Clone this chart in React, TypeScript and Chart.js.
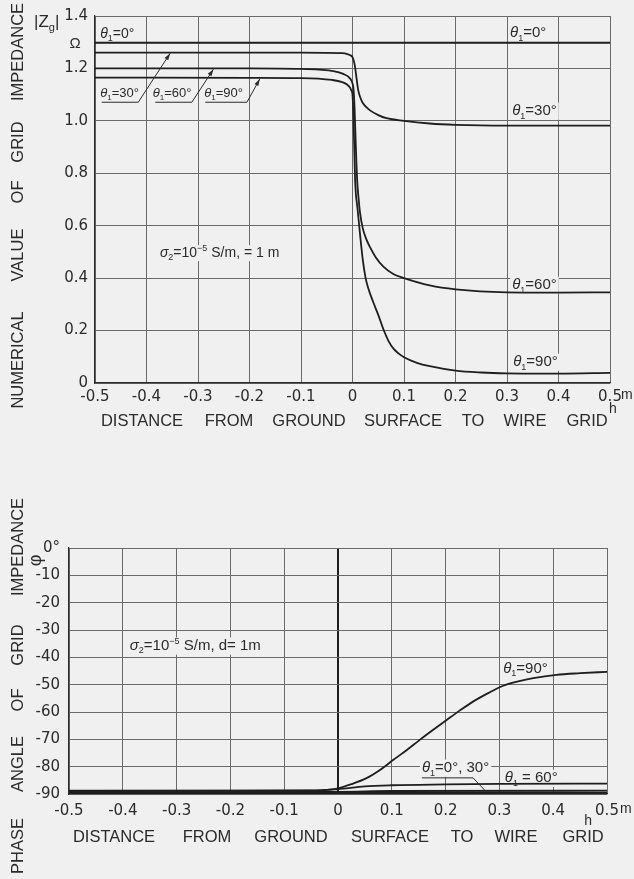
import React, { useEffect, useRef } from "react";
import { Chart, registerables } from "chart.js";

Chart.register(...registerables);

const BG = "#f0f0f0";
const INK = "#2b2b2b";
const GRID = "#6a6a6a";
const FONT = '"Liberation Sans", Arial, sans-serif';
const TICKFAM = '"DejaVu Sans", "Liberation Sans", sans-serif';

// ---------- Chart 1: |Zg| vs h ----------
const zgX0 = [-0.5, 0.5];
const zgY0 = [1.298, 1.298];

const zgX30 = [-0.5, -0.1, -0.02, -0.01, -0.004, 0, 0.003, 0.005, 0.008, 0.011, 0.015, 0.02, 0.027, 0.034, 0.05, 0.066, 0.1, 0.15, 0.2, 0.3, 0.5];
const zgY30 = [1.26, 1.26, 1.258, 1.255, 1.25, 1.243, 1.225, 1.205, 1.16, 1.118, 1.09, 1.068, 1.052, 1.04, 1.022, 1.01, 1.0, 0.99, 0.985, 0.982, 0.982];

const zgX60 = [-0.5, -0.2, -0.1, -0.037, -0.018, -0.005, 0, 0.002, 0.004, 0.006, 0.009, 0.012, 0.0146, 0.02, 0.027, 0.034, 0.045, 0.06, 0.08, 0.1, 0.15, 0.2, 0.3, 0.4, 0.5];
const zgY60 = [1.2, 1.2, 1.198, 1.19, 1.179, 1.162, 1.143, 1.12, 1.05, 0.93, 0.775, 0.7, 0.65, 0.59, 0.548, 0.518, 0.48, 0.444, 0.415, 0.4, 0.372, 0.357, 0.346, 0.345, 0.346];

const zgX90 = [-0.5, -0.2, -0.1, -0.04, -0.02, -0.01, -0.005, -0.002, 0, 0.002, 0.004, 0.005, 0.01, 0.015, 0.02, 0.025, 0.03, 0.04, 0.05, 0.06, 0.07, 0.08, 0.09, 0.1, 0.125, 0.15, 0.2, 0.25, 0.3, 0.4, 0.5];
const zgY90 = [1.165, 1.164, 1.163, 1.156, 1.148, 1.138, 1.127, 1.115, 1.1, 1.0, 0.85, 0.775, 0.66, 0.56, 0.47, 0.405, 0.365, 0.31, 0.26, 0.205, 0.16, 0.13, 0.112, 0.098, 0.077, 0.064, 0.047, 0.04, 0.037, 0.036, 0.039];

// ---------- Chart 2: phase vs h ----------
const phX0 = [-0.5, 0.5];
const phY0 = [-89.6, -89.5];

const phX30 = [-0.5, 0, 0.1, 0.5];
const phY30 = [-89.3, -89.2, -88.9, -88.8];

const phX60 = [-0.5, -0.05, 0, 0.05, 0.1, 0.2, 0.3, 0.5];
const phY60 = [-88.9, -88.8, -88.2, -87.2, -86.8, -86.5, -86.3, -86.2];

const phX90 = [-0.5, -0.2, -0.05, -0.02, 0, 0.025, 0.053, 0.078, 0.103, 0.128, 0.152, 0.177, 0.202, 0.226, 0.251, 0.28, 0.307, 0.335, 0.363, 0.406, 0.45, 0.5];
const phY90 = [-88.8, -88.8, -88.7, -88.5, -87.9, -86.4, -84.2, -81.2, -77.5, -73.9, -70.2, -66.5, -62.9, -59.5, -56.2, -53.0, -50.4, -48.8, -47.6, -46.4, -45.8, -45.3];

const xTitleWords = ["DISTANCE", "FROM", "GROUND", "SURFACE", "TO", "WIRE", "GRID"];
const topYTitleWords = ["NUMERICAL", "VALUE", "OF", "GRID", "IMPEDANCE"];
const botYTitleWords = ["PHASE", "ANGLE", "OF", "GRID", "IMPEDANCE"];

const pts = (xs: number[], ys: number[]) => xs.map((x, i) => ({ x, y: ys[i] }));

type Seg = { t: string; sub?: boolean; sup?: boolean; it?: boolean };
const th = (rest: string): Seg[] => [{ t: "θ", it: true }, { t: "1", sub: true }, { t: rest }];

function segFont(seg: Seg, size: number) {
  const s = seg.sub || seg.sup ? Math.round(size * 0.62) : size;
  return `${seg.it ? "italic " : ""}${s}px ${FONT}`;
}
function measureRich(ctx: CanvasRenderingContext2D, segs: Seg[], size: number) {
  let w = 0;
  for (const s of segs) {
    ctx.font = segFont(s, size);
    w += ctx.measureText(s.t).width;
  }
  return w;
}
function drawRich(ctx: CanvasRenderingContext2D, x: number, cy: number, segs: Seg[], size: number, mode: "bg" | "text") {
  const w = measureRich(ctx, segs, size);
  const base = cy + size * 0.36;
  if (mode === "bg") {
    ctx.fillStyle = BG;
    ctx.fillRect(x - 2, base - size * 0.85, w + 4, size * 1.15);
    return;
  }
  ctx.fillStyle = INK;
  ctx.textAlign = "left";
  ctx.textBaseline = "alphabetic";
  let cx = x;
  for (const s of segs) {
    ctx.font = segFont(s, size);
    const dy = s.sub ? size * 0.22 : s.sup ? -size * 0.42 : 0;
    ctx.fillText(s.t, cx, base + dy);
    cx += ctx.measureText(s.t).width;
  }
}

function drawRotWord(ctx: CanvasRenderingContext2D, word: string, x: number, y: number, size: number) {
  ctx.save();
  ctx.translate(x, y);
  ctx.rotate(-Math.PI / 2);
  ctx.font = `${size}px ${FONT}`;
  ctx.fillStyle = INK;
  ctx.textAlign = "center";
  ctx.textBaseline = "middle";
  ctx.fillText(word, 0, 0);
  ctx.restore();
}
function drawWord(ctx: CanvasRenderingContext2D, word: string, x: number, y: number, size: number) {
  ctx.font = `${size}px ${FONT}`;
  ctx.fillStyle = INK;
  ctx.textAlign = "center";
  ctx.textBaseline = "middle";
  ctx.fillText(word, x, y);
}

type Label = { x: number; y: number; segs: Seg[]; size: number };
type Leader = { path: number[][]; arrow: boolean };

function makeTextPlugin(opts: {
  labels: Label[];
  leaders: Leader[];
  yWords: string[];
  yWordCenters: number[];
  xWordCenters: number[];
  xWordY: number;
  extra: (ctx: CanvasRenderingContext2D, X: (v: number) => number, Y: (v: number) => number) => void;
}) {
  return {
    id: "texts",
    beforeDatasetsDraw(chart: any) {
      const { ctx, scales } = chart;
      const X = (v: number) => scales.x.getPixelForValue(v);
      const Y = (v: number) => scales.y.getPixelForValue(v);
      ctx.save();
      for (const l of opts.labels) drawRich(ctx, X(l.x), Y(l.y), l.segs, l.size, "bg");
      ctx.restore();
    },
    afterDraw(chart: any) {
      const { ctx, scales } = chart;
      const X = (v: number) => scales.x.getPixelForValue(v);
      const Y = (v: number) => scales.y.getPixelForValue(v);
      ctx.save();
      for (const l of opts.labels) drawRich(ctx, X(l.x), Y(l.y), l.segs, l.size, "text");
      ctx.strokeStyle = INK;
      ctx.fillStyle = INK;
      ctx.lineWidth = 1;
      for (const ld of opts.leaders) {
        ctx.beginPath();
        ld.path.forEach(([a, b], i) => (i === 0 ? ctx.moveTo(X(a), Y(b)) : ctx.lineTo(X(a), Y(b))));
        ctx.stroke();
        if (ld.arrow) {
          const n = ld.path.length;
          const [x1, y1] = [X(ld.path[n - 2][0]), Y(ld.path[n - 2][1])];
          const [x2, y2] = [X(ld.path[n - 1][0]), Y(ld.path[n - 1][1])];
          const ang = Math.atan2(y2 - y1, x2 - x1);
          const L = 7, W = 2.2;
          ctx.beginPath();
          ctx.moveTo(x2, y2);
          ctx.lineTo(x2 - L * Math.cos(ang) + W * Math.sin(ang), y2 - L * Math.sin(ang) - W * Math.cos(ang));
          ctx.lineTo(x2 - L * Math.cos(ang) - W * Math.sin(ang), y2 - L * Math.sin(ang) + W * Math.cos(ang));
          ctx.closePath();
          ctx.fill();
        }
      }
      opts.yWords.forEach((w, i) => drawRotWord(ctx, w, 18, opts.yWordCenters[i], 16.5));
      xTitleWords.forEach((w, i) => drawWord(ctx, w, opts.xWordCenters[i], opts.xWordY, 16.5));
      opts.extra(ctx, X, Y);
      ctx.restore();
    },
  };
}

const lineDs = (data: { x: number; y: number }[]) => ({
  data,
  borderColor: "#1e1e1e",
  borderWidth: 1.8,
  pointRadius: 0,
  fill: false,
  cubicInterpolationMode: "monotone" as const,
});

const fmtX = (v: number) => (Math.abs(v) < 1e-9 ? "0" : Number(v).toFixed(1));
const tickFont = { family: TICKFAM, size: 15, style: "condensed" };

function topConfig(): any {
  const plugin = makeTextPlugin({
    labels: [
      { x: -0.49, y: 1.335, segs: th("=0°"), size: 14 },
      { x: 0.306, y: 1.339, segs: th("=0°"), size: 15 },
      { x: 0.31, y: 1.042, segs: th("=30°"), size: 15 },
      { x: 0.31, y: 0.378, segs: th("=60°"), size: 15 },
      { x: 0.312, y: 0.084, segs: th("=90°"), size: 15 },
      { x: -0.49, y: 1.11, segs: th("=30°"), size: 13 },
      { x: -0.388, y: 1.11, segs: th("=60°"), size: 13 },
      { x: -0.288, y: 1.11, segs: th("=90°"), size: 13 },
      {
        x: -0.374,
        y: 0.5,
        segs: [{ t: "σ", it: true }, { t: "2", sub: true }, { t: "=10" }, { t: "−5", sup: true }, { t: " S/m, = 1 m" }],
        size: 14,
      },
    ],
    leaders: [
      { path: [[-0.487, 1.071], [-0.416, 1.071], [-0.354, 1.258]], arrow: true },
      { path: [[-0.383, 1.071], [-0.312, 1.071], [-0.27, 1.197]], arrow: true },
      { path: [[-0.286, 1.071], [-0.205, 1.071], [-0.18, 1.16]], arrow: true },
    ],
    yWords: topYTitleWords,
    yWordCenters: [360, 255, 192, 142, 52],
    xWordCenters: [142, 229, 309, 403, 473, 525, 587],
    xWordY: 421,
    extra: (ctx, X, Y) => {
      drawRich(ctx, 34, 21, [{ t: "|Z" }, { t: "g", sub: true }, { t: "|" }], 17, "text");
      ctx.font = `15px ${FONT}`;
      ctx.fillStyle = INK;
      ctx.textAlign = "center";
      ctx.textBaseline = "middle";
      ctx.fillText("Ω", 75, Y(1.293));
      ctx.font = `14px ${FONT}`;
      ctx.textAlign = "left";
      ctx.fillText("m", X(0.5) + 11, 395);
      ctx.textAlign = "center";
      ctx.fillText("h", X(0.5) + 3, 409);
    },
  });
  return {
    type: "line",
    data: {
      datasets: [lineDs(pts(zgX0, zgY0)), lineDs(pts(zgX30, zgY30)), lineDs(pts(zgX60, zgY60)), lineDs(pts(zgX90, zgY90))],
    },
    options: {
      animation: false,
      responsive: false,
      maintainAspectRatio: false,
      layout: { padding: { left: 0, right: 24, top: 16, bottom: 0 } },
      plugins: { legend: { display: false }, tooltip: { enabled: false } },
      scales: {
        x: {
          type: "linear",
          min: -0.5,
          max: 0.5,
          afterFit: (s: any) => {
            s.height = 57;
          },
          ticks: { stepSize: 0.1, autoSkip: false, maxRotation: 0, padding: 5, color: INK, font: tickFont, callback: (v: number) => fmtX(v) },
          grid: { color: GRID, lineWidth: 1, drawTicks: false },
          border: { color: INK, width: 1.2 },
        },
        y: {
          type: "linear",
          min: 0,
          max: 1.4,
          afterFit: (s: any) => {
            s.width = 95;
          },
          ticks: { stepSize: 0.2, padding: 7, color: INK, font: tickFont, callback: (v: number) => (Math.abs(v) < 1e-9 ? "0" : Number(v).toFixed(1)) },
          grid: { color: GRID, lineWidth: 1, drawTicks: false },
          border: { color: INK, width: 1.2 },
        },
      },
    },
    plugins: [plugin],
  };
}

function bottomConfig(): any {
  const plugin = makeTextPlugin({
    labels: [
      {
        x: -0.387,
        y: -35.4,
        segs: [{ t: "σ", it: true }, { t: "2", sub: true }, { t: "=10" }, { t: "−5", sup: true }, { t: " S/m, d= 1m" }],
        size: 15,
      },
      { x: 0.307, y: -43.8, segs: th("=90°"), size: 15 },
      { x: 0.156, y: -80.1, segs: th("=0°, 30°"), size: 15 },
      { x: 0.31, y: -83.8, segs: th(" = 60°"), size: 15 },
    ],
    leaders: [{ path: [[0.156, -84.1], [0.251, -84.1], [0.277, -89.5]], arrow: false }],
    yWords: botYTitleWords,
    yWordCenters: [406, 324, 260, 205, 107],
    xWordCenters: [114, 207, 291, 390, 462, 516, 583],
    xWordY: 397,
    extra: (ctx, X, Y) => {
      drawRotWord(ctx, "φ", 36, Y(-4.5), 18);
      ctx.font = `14px ${FONT}`;
      ctx.fillStyle = INK;
      ctx.textBaseline = "middle";
      ctx.textAlign = "left";
      ctx.fillText("m", X(0.5) + 13, 369);
      ctx.textAlign = "center";
      ctx.fillText("h", X(0.45) + 8, 381);
    },
  });
  return {
    type: "line",
    data: {
      datasets: [lineDs(pts(phX0, phY0)), lineDs(pts(phX30, phY30)), lineDs(pts(phX60, phY60)), lineDs(pts(phX90, phY90))],
    },
    options: {
      animation: false,
      responsive: false,
      maintainAspectRatio: false,
      layout: { padding: { left: 0, right: 27, top: 108, bottom: 0 } },
      plugins: { legend: { display: false }, tooltip: { enabled: false } },
      scales: {
        x: {
          type: "linear",
          min: -0.5,
          max: 0.5,
          afterFit: (s: any) => {
            s.height = 85;
          },
          ticks: { stepSize: 0.1, autoSkip: false, maxRotation: 0, padding: 8, color: INK, font: tickFont, callback: (v: number) => fmtX(v) },
          grid: {
            color: (c: any) => (c.tick && Math.abs(c.tick.value) < 1e-9 ? "#1e1e1e" : GRID),
            lineWidth: (c: any) => (c.tick && Math.abs(c.tick.value) < 1e-9 ? 2 : 1),
            drawTicks: false,
          },
          border: { color: INK, width: 1.2 },
        },
        y: {
          type: "linear",
          min: -90,
          max: 0,
          afterFit: (s: any) => {
            s.width = 69;
          },
          ticks: { stepSize: 10, padding: 9, color: INK, font: tickFont, callback: (v: number) => (Math.abs(v) < 1e-9 ? "0°" : String(Math.round(v))) },
          grid: { color: GRID, lineWidth: 1, drawTicks: false },
          border: { color: INK, width: 1.2 },
        },
      },
    },
    plugins: [plugin],
  };
}

function ChartCanvas({ make, top, height }: { make: () => any; top: number; height: number }) {
  const ref = useRef<HTMLCanvasElement>(null);
  useEffect(() => {
    const chart = new Chart(ref.current as HTMLCanvasElement, make());
    return () => chart.destroy();
  }, []);
  return (
    <canvas
      ref={ref}
      width={634}
      height={height}
      style={{ position: "absolute", left: 0, top, width: 634, height, display: "block" }}
    />
  );
}

export default function App() {
  return (
    <div style={{ position: "fixed", left: 0, top: 0, width: 634, height: 879, background: BG, overflow: "hidden" }}>
      <ChartCanvas make={topConfig} top={0} height={440} />
      <ChartCanvas make={bottomConfig} top={440} height={439} />
    </div>
  );
}
